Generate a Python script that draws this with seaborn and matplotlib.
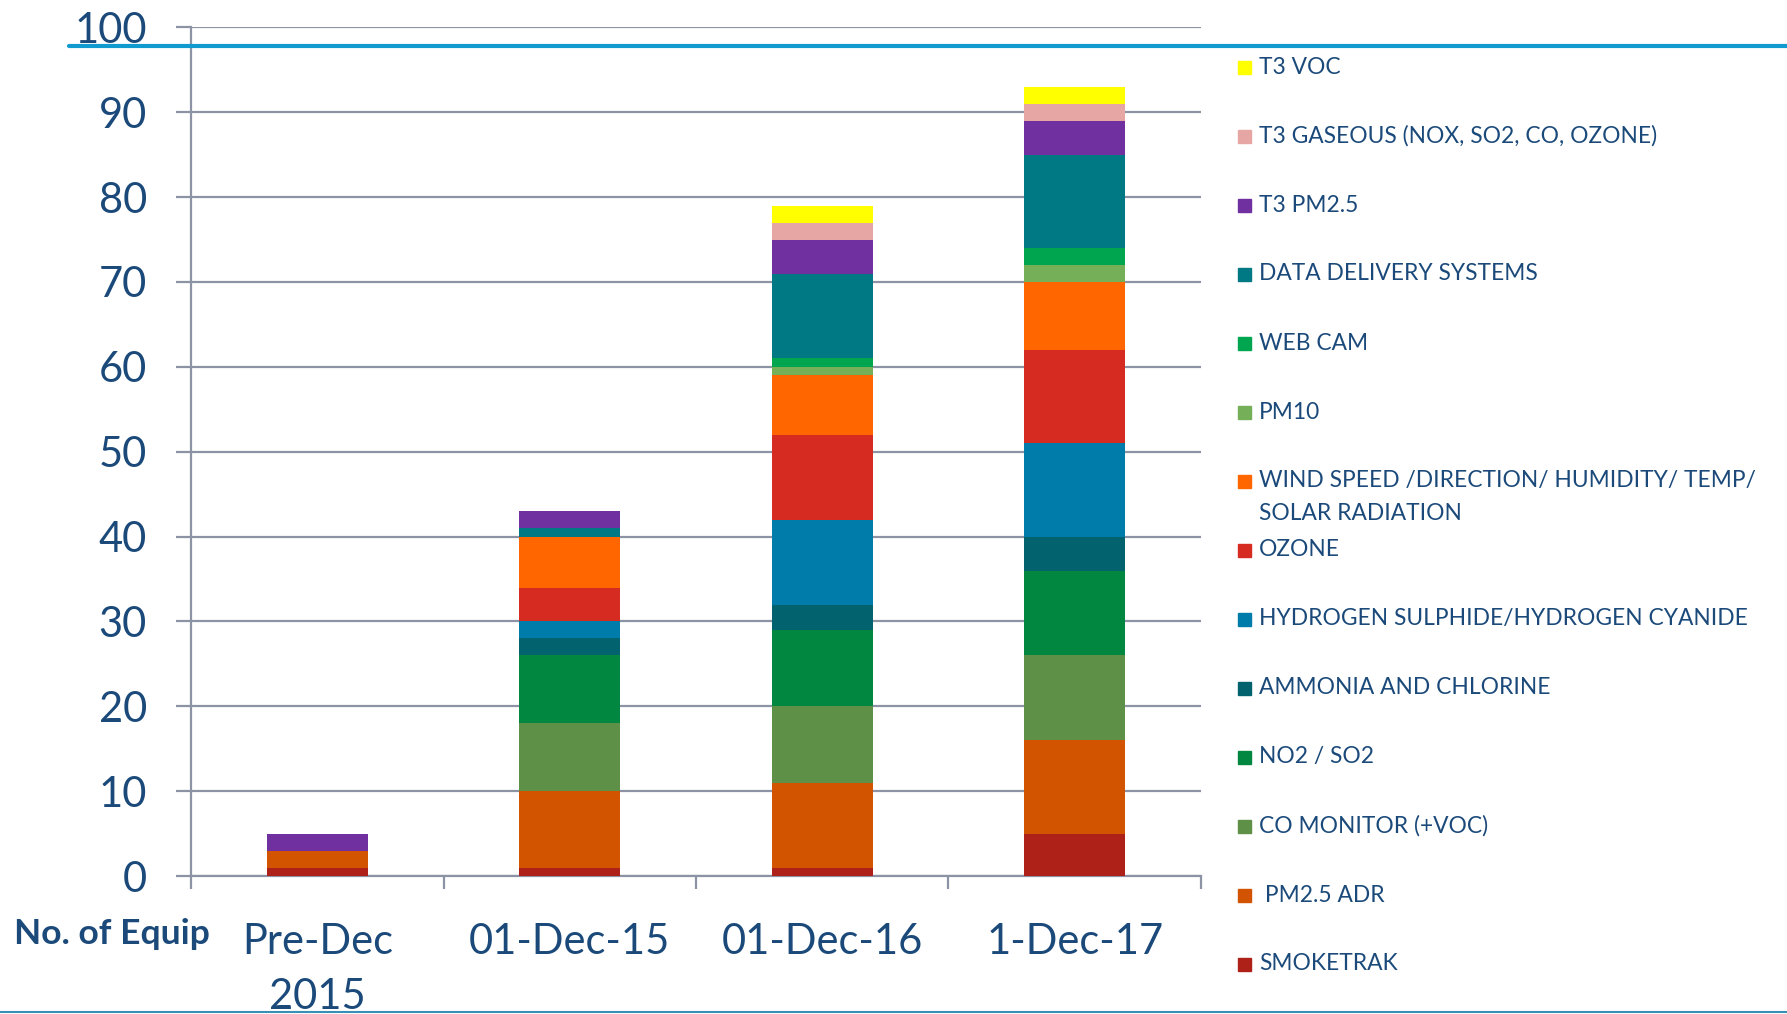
import numpy as np
import pandas as pd
import matplotlib
matplotlib.use("Agg")
import matplotlib.pyplot as plt
from matplotlib.patches import Rectangle
from matplotlib.lines import Line2D
import seaborn as sns

# ----------------------------
# Data (bottom of stack first)
# ----------------------------
dates = ["Pre-Dec\n2015", "01-Dec-15", "01-Dec-16", "1-Dec-17"]

equipment = [
    "SMOKETRAK",
    " PM2.5 ADR",
    "CO MONITOR (+VOC)",
    "NO2 / SO2",
    "AMMONIA AND CHLORINE",
    "HYDROGEN SULPHIDE/HYDROGEN CYANIDE",
    "OZONE",
    "WIND SPEED /DIRECTION/ HUMIDITY/ TEMP/\nSOLAR RADIATION",
    "PM10",
    "WEB CAM",
    "DATA DELIVERY SYSTEMS",
    "T3 PM2.5",
    "T3 GASEOUS (NOX, SO2, CO, OZONE)",
    "T3 VOC",
]

smoketrak = [1, 1, 1, 5]
pm25_adr = [2, 9, 10, 11]
co_monitor = [0, 8, 9, 10]
no2_so2 = [0, 8, 9, 10]
ammonia = [0, 2, 3, 4]
h2s_hcn = [0, 2, 10, 11]
ozone = [0, 4, 10, 11]
wind_met = [0, 6, 7, 8]
pm10 = [0, 0, 1, 2]
web_cam = [0, 0, 1, 2]
data_delivery = [0, 1, 10, 11]
t3_pm25 = [2, 2, 4, 4]
t3_gaseous = [0, 0, 2, 2]
t3_voc = [0, 0, 2, 2]

colors = [
    "#ae2119", "#d25400", "#5e9147", "#018740", "#02636f", "#007cab", "#d52b20",
    "#ff6600", "#75b059", "#00a550", "#007985", "#7030a0", "#e6a6a3", "#ffff00",
]

series = [smoketrak, pm25_adr, co_monitor, no2_so2, ammonia, h2s_hcn, ozone,
          wind_met, pm10, web_cam, data_delivery, t3_pm25, t3_gaseous, t3_voc]

counts = pd.DataFrame(np.array(series).T, index=dates, columns=equipment)
cum = counts.cumsum(axis=1)

text_col = "#1b4a7a"
grid_col = "#8b93a5"

sns.set_style("white")
plt.rcParams["font.family"] = ["Lato", "DejaVu Sans"]

fig = plt.figure(figsize=(17.87, 10.14), dpi=100)
ax = fig.add_axes([0.107, 0.136, 0.565, 0.837])

# stacked bars: draw cumulative totals from top layer down
for name, col in reversed(list(zip(equipment, colors))):
    sns.barplot(x=dates, y=cum[name].values, color=col, width=0.4,
                saturation=1, errorbar=None, ax=ax, zorder=3, linewidth=0)

ax.set_xlim(-0.5, 3.5)
ax.set_ylim(0, 100)
ax.set_yticks(np.arange(0, 101, 10))
ax.yaxis.grid(True, color=grid_col, linewidth=1.6, zorder=0)
ax.set_axisbelow(True)
ax.tick_params(axis="y", labelsize=30, labelcolor=text_col, color=grid_col,
               length=11, width=1.6, direction="out", left=True, pad=21)

# x: boundary ticks, labels centred under bars
ax.set_xticks([-0.5, 0.5, 1.5, 2.5, 3.5])
ax.set_xticklabels([])
ax.set_xticks(range(len(dates)), minor=True)
ax.set_xticklabels(dates, minor=True)
ax.tick_params(axis="x", which="major", color=grid_col, length=9, width=1.6,
               direction="out", bottom=True)
ax.tick_params(axis="x", which="minor", length=0, labelsize=30,
               labelcolor=text_col, pad=34)
for lbl in ax.get_xticklabels(minor=True):
    lbl.set_linespacing(1.55)
    lbl.set_verticalalignment("top")

for side in ["top", "right"]:
    ax.spines[side].set_visible(False)
for side in ["left", "bottom"]:
    ax.spines[side].set_color(grid_col)
    ax.spines[side].set_linewidth(1.6)
ax.set_xlabel("")
ax.set_ylabel("")

fig.text(0.008, 0.079, "No. of Equip", fontsize=25.5, fontweight="bold",
         color=text_col, va="center", ha="left")

# legend drawn by hand, top entry first
W, H = 1787, 1014
y0, step = 67, 69
for i, (name, col) in enumerate(reversed(list(zip(equipment, colors)))):
    yc = y0 + i * step
    fig.patches.append(Rectangle((1238 / W, 1 - (yc + 6.5) / H), 13 / W, 13 / H,
                                 transform=fig.transFigure, color=col))
    for j, line in enumerate(name.split("\n")):
        fig.text(1259 / W, 1 - (yc + j * 33) / H, line, fontsize=16.4,
                 color=text_col, va="center", ha="left")

# decorative rules
fig.add_artist(Line2D([69 / W, 1.0], [1 - 45.5 / H] * 2, color="#0f9ad0",
                      linewidth=3, transform=fig.transFigure))
fig.add_artist(Line2D([0, 1.0], [1 - 1012 / H] * 2, color="#3a8fb7",
                      linewidth=1.5, transform=fig.transFigure))

fig.savefig("out.png", dpi=100)
